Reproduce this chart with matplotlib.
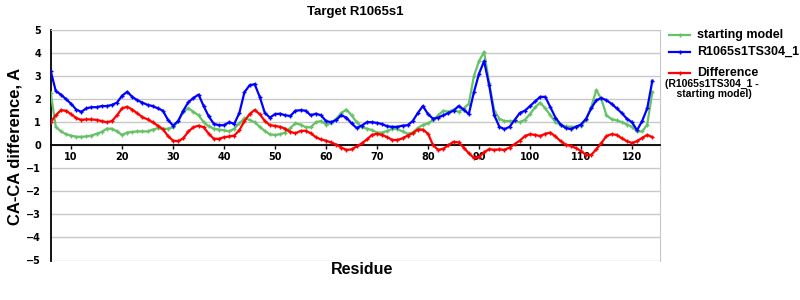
import numpy as np
import matplotlib
matplotlib.use("Agg")
import matplotlib.pyplot as plt
from matplotlib.lines import Line2D

residues = list(range(6, 125))

starting_model = [
    2.28, 0.8, 0.6, 0.48, 0.42, 0.37, 0.37, 0.38, 0.42, 0.5, 0.58, 0.72, 0.72, 0.6, 0.45, 0.55, 0.58, 0.6, 0.6, 0.6, 0.68, 0.74, 0.7, 0.72, 0.78,
    1.05, 1.45, 1.6, 1.45, 1.3, 1.0, 0.82, 0.72, 0.68, 0.65, 0.6, 0.72, 0.95, 1.17, 1.1, 1.0, 0.8, 0.62, 0.47, 0.45, 0.48, 0.55, 0.75, 0.95,
    0.9, 0.78, 0.78, 1.0, 1.05, 0.9, 0.95, 1.15, 1.4, 1.55, 1.3, 1.0, 0.8, 0.72, 0.66, 0.55, 0.55, 0.62, 0.72, 0.7, 0.6, 0.5, 0.55, 0.75,
    0.88, 0.95, 1.1, 1.3, 1.5, 1.45, 1.55, 1.45, 1.6, 1.8, 3.0, 3.65, 4.05, 2.7, 1.5, 1.15, 1.05, 1.05, 1.05, 1.0, 1.1, 1.35, 1.65, 1.85,
    1.6, 1.3, 1.0, 0.88, 0.82, 0.8, 0.8, 0.85, 1.1, 1.65, 2.4, 2.0, 1.3, 1.13, 1.08, 1.0, 0.9, 0.8, 0.6, 0.6, 0.9, 2.32,
]

model_ts304 = [
    3.22, 2.35, 2.2, 2.0, 1.8, 1.55, 1.45, 1.6, 1.65, 1.65, 1.7, 1.7, 1.75, 1.85, 2.15, 2.32, 2.1, 1.95, 1.85, 1.75, 1.7, 1.6, 1.5, 1.1, 0.85,
    1.05, 1.5, 1.87, 2.05, 2.2, 1.7, 1.25, 0.93, 0.87, 0.87, 1.0, 0.93, 1.4, 2.3, 2.6, 2.65, 2.1, 1.4, 1.2, 1.35, 1.37, 1.3, 1.27, 1.5,
    1.52, 1.5, 1.3, 1.37, 1.3, 1.05, 1.0, 1.1, 1.3, 1.2, 0.95, 0.75, 0.85, 1.0, 1.0, 0.97, 0.92, 0.82, 0.8, 0.8, 0.85, 0.87, 1.05, 1.4,
    1.7, 1.35, 1.15, 1.2, 1.3, 1.4, 1.5, 1.7, 1.55, 1.35, 2.3, 3.1, 3.65, 2.6, 1.3, 0.8, 0.7, 0.8, 1.1, 1.4, 1.5, 1.7, 1.9, 2.1,
    2.1, 1.65, 1.2, 0.9, 0.75, 0.7, 0.8, 0.9, 1.15, 1.6, 1.95, 2.05, 1.95, 1.8, 1.6, 1.4, 1.15, 1.0, 0.65, 1.05, 1.6, 2.8,
]

difference = [
    1.0, 1.3, 1.52, 1.5, 1.35, 1.18, 1.1, 1.12, 1.12, 1.1, 1.05, 1.0, 1.05, 1.3, 1.6, 1.67, 1.55, 1.38, 1.22, 1.12, 1.0, 0.85, 0.7, 0.4, 0.2,
    0.18, 0.3, 0.6, 0.78, 0.85, 0.78, 0.5, 0.28, 0.28, 0.35, 0.38, 0.42, 0.65, 1.05, 1.35, 1.53, 1.35, 1.05, 0.87, 0.84, 0.8, 0.72, 0.58, 0.52,
    0.62, 0.63, 0.52, 0.35, 0.25, 0.2, 0.12, 0.03, -0.1, -0.2, -0.18, -0.05, 0.08, 0.25, 0.45, 0.5, 0.45, 0.35, 0.23, 0.23, 0.3, 0.42, 0.52, 0.68,
    0.68, 0.5, 0.0, -0.2, -0.15, 0.0, 0.15, 0.12, -0.1, -0.35, -0.55, -0.5, -0.3, -0.17, -0.2, -0.18, -0.2, -0.1, 0.05, 0.2, 0.4, 0.48, 0.45, 0.4,
    0.5, 0.55, 0.38, 0.18, 0.03, -0.03, -0.12, -0.25, -0.42, -0.42, -0.18, 0.1, 0.4, 0.48, 0.45, 0.3, 0.18, 0.1, 0.18, 0.32, 0.45, 0.35,
]

x_ticks = [10, 20, 30, 40, 50, 60, 70, 80, 90, 100, 110, 120]
y_ticks = [-5, -4, -3, -2, -1, 0, 1, 2, 3, 4, 5]

title = "Target R1065s1"
xlabel = "Residue"
ylabel = "CA-CA difference, A"
series_labels = ["starting model", "R1065s1TS304_1", "Difference"]
diff_note = "(R1065s1TS304_1 -\n    starting model)"

c_green = "#66c266"
c_blue = "#0000ff"
c_red = "#ff0000"

fig = plt.figure(figsize=(8, 3), dpi=100)
ax = fig.add_axes([50.7 / 800, 1 - 260.5 / 300, (660 - 50.7) / 800, (260.5 - 30) / 300])

ax.set_ylim(-5, 5)
ax.set_xlim(6, 125.5)
ax.set_yticks(y_ticks)
ax.set_xticks(x_ticks)
ax.grid(axis="y", color="#c8c8c8", lw=1)
ax.set_axisbelow(True)

for s in ("top", "right"):
    ax.spines[s].set_color("#c8c8c8")
ax.spines["left"].set_color("black")
ax.spines["left"].set_linewidth(1.3)
ax.spines["bottom"].set_position(("data", 0))
ax.spines["bottom"].set_color("black")
ax.spines["bottom"].set_linewidth(1.3)

kw = dict(lw=1.6, marker="+", markersize=3, markeredgewidth=1)
ax.plot(residues, starting_model, color=c_green, **kw, zorder=3)
ax.plot(residues, model_ts304, color=c_blue, **kw, zorder=4)
ax.plot(residues, difference, color=c_red, **kw, zorder=5)

tickfont = dict(family="DejaVu Sans", weight="bold", size=7)
ax.set_xticklabels([str(t) for t in x_ticks], **tickfont)
ax.set_yticklabels([("\u2212" + str(-t)) if t < 0 else str(t) for t in y_ticks], **tickfont)
ax.tick_params(axis="x", length=3, width=1, pad=2)
ax.tick_params(axis="y", length=0, pad=7)

lab = dict(family="Liberation Sans", weight="bold")
fig.text(355 / 800, 1 - 12 / 300, title, ha="center", va="center", size=9.5, **lab)
fig.text(362 / 800, 1 - 270 / 300, xlabel, ha="center", va="center", size=11.5, **lab)
fig.text(15 / 800, 1 - 146 / 300, ylabel, ha="center", va="center", rotation=90, size=12, **lab)

# legend
leg_rows = [35, 52, 73]
for y, lbl, col in zip(leg_rows, series_labels, [c_green, c_blue, c_red]):
    yf = 1 - y / 300
    fig.add_artist(Line2D([669 / 800, 690 / 800], [yf, yf], color=col, lw=1.6))
    fig.add_artist(Line2D([679.5 / 800], [yf], color=col, marker="+", markersize=3, markeredgewidth=1))
    fig.text(697 / 800, yf, lbl, ha="left", va="center", size=9, **lab)
fig.text(665 / 800, 1 - 89 / 300, diff_note, ha="left", va="center", size=7.5, linespacing=1.0, **lab)

fig.savefig("out.png", dpi=100)
